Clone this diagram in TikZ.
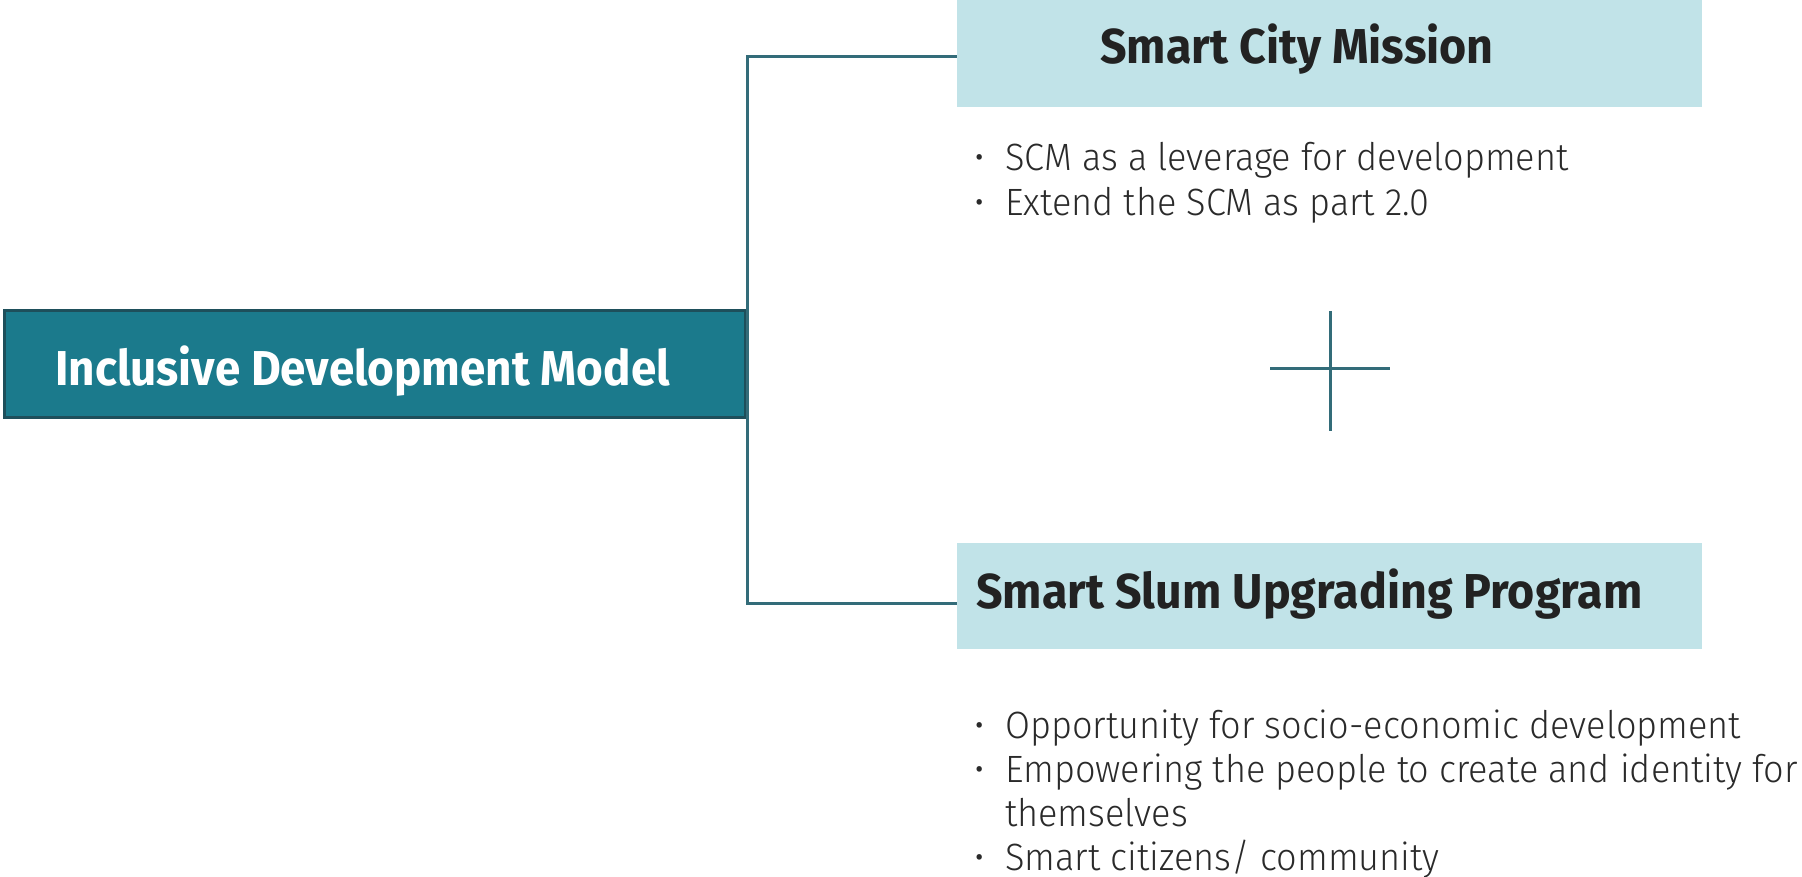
\documentclass[tikz,border=0pt]{standalone}
\usepackage{fontspec}
\setmainfont{Fira Sans}
\newfontfamily\headf{Fira Sans}[FakeStretch=0.95]
\newfontfamily\mainf{Fira Sans}[FakeStretch=0.935]
\newfontfamily\lightf{Fira Sans Light}[FakeStretch=0.95]
\definecolor{teal}{HTML}{1B7A8C}
\definecolor{tealedge}{HTML}{1E4F5B}
\definecolor{lightbox}{HTML}{C1E3E8}
\definecolor{linec}{HTML}{336C79}
\definecolor{headtxt}{HTML}{222222}
\definecolor{bodytxt}{HTML}{2A2A2A}
\tikzset{
  mainbox/.style={draw=tealedge, line width=3pt, fill=teal, inner sep=0},
  subbox/.style={fill=lightbox, inner sep=0},
  headtext/.style={anchor=base west, inner sep=0, font=\headf\bfseries\fontsize{49}{56}\selectfont, text=headtxt},
  maintext/.style={anchor=base west, inner sep=0, font=\mainf\bfseries\fontsize{49}{56}\selectfont, text=white},
  bullettext/.style={anchor=base west, inner sep=0, font=\lightf\fontsize{38}{45}\selectfont, text=bodytxt},
  bulletdot/.style={anchor=base, inner sep=0, font=\lightf\fontsize{38}{45}\selectfont, text=bodytxt},
  conn/.style={draw=linec, line width=3pt},
}
\begin{document}
\begin{tikzpicture}[x=1pt,y=-1pt]
\useasboundingbox (0,0) rectangle (1802,877);
% boxes
\path[mainbox] (4,311) rectangle (745,417);
\node[inner sep=0, minimum width=741pt, minimum height=106pt] (idm) at (374.5,364) {};
\path[subbox] (957,0) rectangle (1702,107);
\node[inner sep=0, minimum width=745pt, minimum height=107pt] (scm) at (1329.5,53.5) {};
\path[subbox] (957,543) rectangle (1702,649);
\node[inner sep=0, minimum width=745pt, minimum height=106pt] (ssu) at (1329.5,596) {};
% connectors
\draw[conn] ([yshift=-3pt]scm.west) -| ([xshift=2pt]idm.east) |- ([yshift=-7pt]ssu.west);
% titles
\node[maintext] (idmt) at (55,385) {Inclusive Development Model};
\node[headtext] (scmt) at (1100,64) {Smart City Mission};
\node[headtext] (ssut) at (976,608) {Smart Slum Upgrading Program};
% bullets top
\node[bulletdot] (b1) at (980,171) {•};
\node[bullettext] (t1) at (1005,171) {SCM as a leverage for development};
\node[bulletdot] (b2) at (980,216) {•};
\node[bullettext] (t2) at (1005,216) {Extend the SCM as part 2.0};
% bullets bottom
\node[bulletdot] (b3) at (980,738) {•};
\node[bullettext] (t3) at (1005,738) {Opportunity for socio-economic development};
\node[bulletdot] (b4) at (980,782) {•};
\node[bullettext] (t4) at (1005,782) {Empowering the people to create and identity for};
\node[bullettext] (t5) at (1005,826) {themselves};
\node[bulletdot] (b6) at (980,870) {•};
\node[bullettext] (t6) at (1005,870) {Smart citizens/ community};
% plus sign
\coordinate (plus) at (1330,368);
\draw[conn] ([xshift=-60pt]plus) -- ([xshift=60pt]plus);
\draw[conn] ([yshift=57pt]plus) -- ([yshift=-63pt]plus);
\end{tikzpicture}
\end{document}
